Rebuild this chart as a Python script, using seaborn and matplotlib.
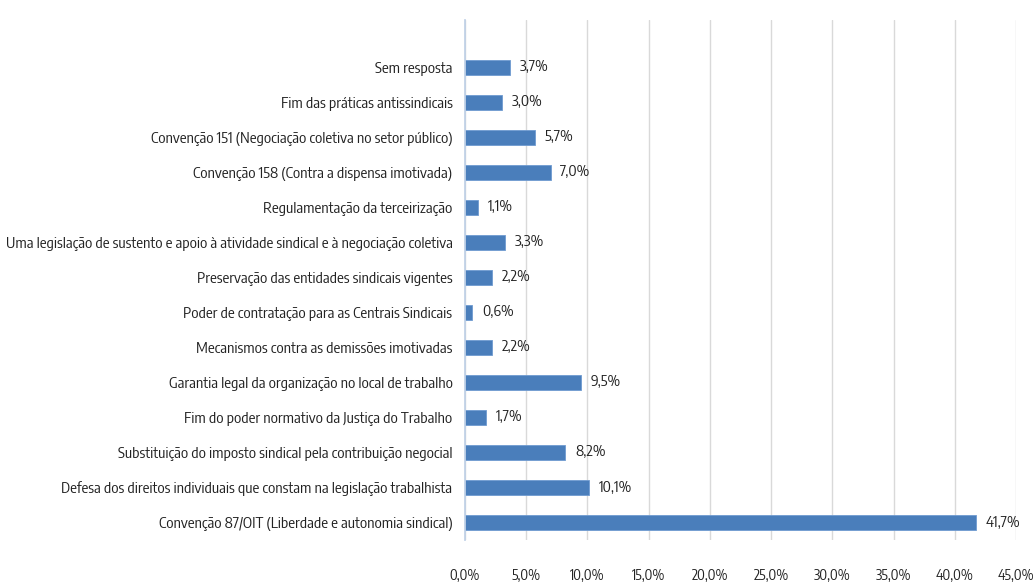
import matplotlib
matplotlib.use("Agg")
import matplotlib.pyplot as plt
from matplotlib import font_manager
from matplotlib.ticker import FuncFormatter, MultipleLocator
import seaborn as sns
import pandas as pd

categories = [
    "Sem resposta",
    "Fim das práticas antissindicais",
    "Convenção 151 (Negociação coletiva no setor público)",
    "Convenção 158 (Contra a dispensa imotivada)",
    "Regulamentação da terceirização",
    "Uma legislação de sustento e apoio à atividade sindical e à negociação coletiva",
    "Preservação das entidades sindicais vigentes",
    "Poder de contratação para as Centrais Sindicais",
    "Mecanismos contra as demissões imotivadas",
    "Garantia legal da organização no local de trabalho",
    "Fim do poder normativo da Justiça do Trabalho",
    "Substituição do imposto sindical pela contribuição negocial",
    "Defesa dos direitos individuais que constam na legislação trabalhista",
    "Convenção 87/OIT (Liberdade e autonomia sindical)",
]
values = [3.7, 3.0, 5.7, 7.0, 1.1, 3.3, 2.2, 0.6, 2.2, 9.5, 1.7, 8.2, 10.1, 41.7]

df = pd.DataFrame({"categoria": categories, "pct": values})

sns.set_theme(style="white")


def pick_narrow_font():
    """Prefer a condensed sans face; otherwise a compact regular sans."""
    files = font_manager.findSystemFonts()
    for f in files:
        base = f.lower().split("/")[-1]
        if ("condensed" in base or "narrow" in base) and "bold" not in base and "italic" not in base \
                and "light" not in base and "thin" not in base and "medium" not in base \
                and "black" not in base and "semi" not in base and "extra" not in base:
            font_manager.fontManager.addfont(f)
            return font_manager.FontProperties(fname=f).get_name()
    names = {f.name for f in font_manager.fontManager.ttflist}
    for name in ["Roboto", "Lato", "Liberation Sans"]:
        if name in names:
            return name
    return "DejaVu Sans"


family = pick_narrow_font()
plt.rcParams["font.family"] = [family, "DejaVu Sans"]

text_color = "#222222"
bar_color = "#4a7ebb"

fig = plt.figure(figsize=(10.34, 5.87), dpi=100)
ax = fig.add_axes([0.4497, 0.080, 0.533, 0.886])

sns.barplot(data=df, x="pct", y="categoria", orient="h", color=bar_color,
            width=0.42, edgecolor="#6f9bd1", linewidth=0.6, saturation=1, ax=ax)

ax.set_xlim(0, 45)
ax.set_ylim(len(categories) - 0.5, -1.35)
ax.xaxis.set_major_locator(MultipleLocator(5))
ax.xaxis.set_major_formatter(FuncFormatter(lambda v, _: f"{v:.1f}%".replace(".", ",")))
ax.grid(axis="x", color="#d9d9d9", linewidth=1)
ax.set_axisbelow(True)
for side in ["top", "right", "bottom"]:
    ax.spines[side].set_visible(False)
ax.spines["left"].set_color("#bfd0e6")
ax.set_xlabel("")
ax.set_ylabel("")
ax.tick_params(axis="y", length=0, pad=9, labelcolor=text_color)
ax.tick_params(axis="x", length=0, pad=21, labelcolor=text_color)

labels = []
for container in ax.containers:
    labels += ax.bar_label(container, labels=[f"{v:.1f}%".replace(".", ",") for v in values],
                           padding=7, color=text_color)

# size the text so the longest category label spans the space left of the axis
fig.canvas.draw()
longest = max(ax.get_yticklabels(), key=lambda t: len(t.get_text()))
base_size = longest.get_fontsize()
width = longest.get_window_extent().width
size = base_size * 447.0 / width
for t in ax.get_yticklabels() + labels:
    t.set_fontsize(size)
for t in ax.get_xticklabels():
    t.set_fontsize(size * 0.95)

fig.savefig("out.png", dpi=100, facecolor="white")
